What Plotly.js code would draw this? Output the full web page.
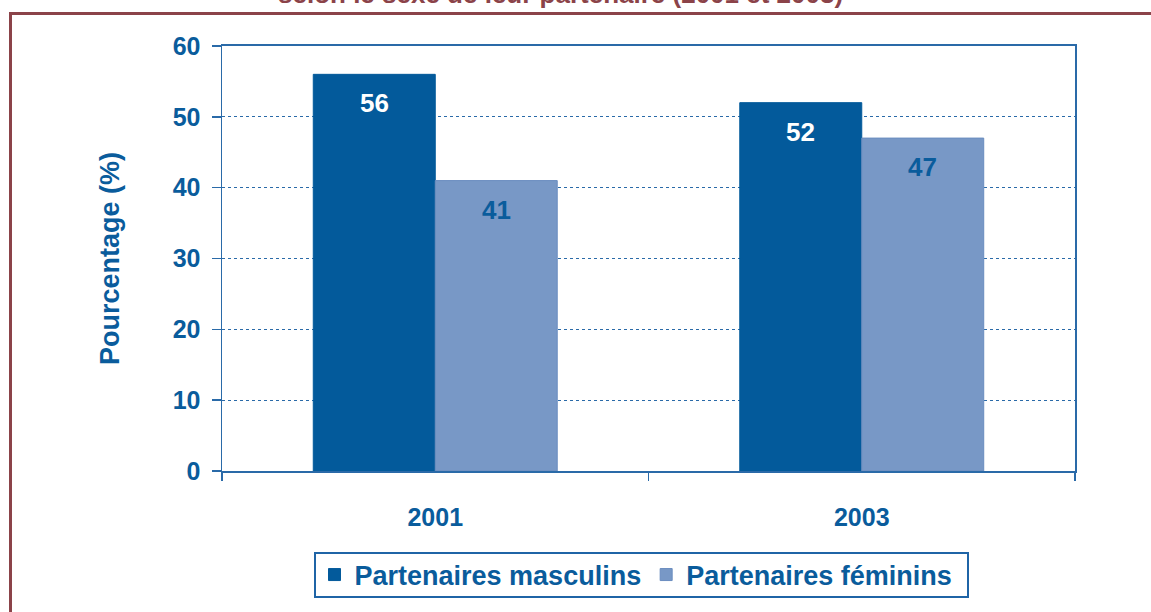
<!DOCTYPE html>
<html>
<head>
<meta charset="utf-8">
<script src="https://cdn.plot.ly/plotly-3.0.1.min.js"></script>
<style>html,body{margin:0;padding:0;background:#fff;}#chart{width:1151px;height:612px;}</style>
</head>
<body>
<div id="chart"></div>
<script>
const years = ["2001", "2003"];
const masculins = [56, 52];
const feminins = [41, 47];
const seriesNames = ["Partenaires masculins", "Partenaires féminins"];
const yTicks = [0, 10, 20, 30, 40, 50, 60];
const titleText = "selon le sexe de leur partenaire (2001 et 2003)";
const yTitle = "Pourcentage (%)";

const BLUE = "#0a5c9c";
const DARK = "#035a9b";
const LIGHT = "#7898c6";
const MAROON = "#8b4349";
const FONT = "Liberation Sans, Arial, sans-serif";

// pixel helpers (plot area: x 222..1075, y 46..471)
const L = 222, R = 1075, T = 46, B = 471, W = 1151, H = 612;
const px = p => (p - L) / (R - L);
const py = p => (B - p) / (B - T);

const traces = [
  {type: "bar", x: years, y: masculins, name: seriesNames[0],
   marker: {color: DARK, line: {color: DARK, width: 1}}},
  {type: "bar", x: years, y: feminins, name: seriesNames[1],
   marker: {color: LIGHT, line: {color: "#6a8cbf", width: 1}}}
];

const annotations = [];
years.forEach((yr, i) => {
  annotations.push({x: i, y: masculins[i], xref: "x", yref: "y", text: String(masculins[i]),
    showarrow: false, xshift: -61, yshift: -12, yanchor: "top",
    font: {family: FONT, size: 26, color: "#ffffff", weight: "bold"}});
  annotations.push({x: i, y: feminins[i], xref: "x", yref: "y", text: String(feminins[i]),
    showarrow: false, xshift: 61, yshift: -12, yanchor: "top",
    font: {family: FONT, size: 26, color: BLUE, weight: "bold"}});
});
annotations.push({x: px(560), y: py(11), xref: "paper", yref: "paper", xanchor: "center", yanchor: "bottom",
  text: titleText, showarrow: false,
  font: {family: FONT, size: 26, color: MAROON, weight: "bold"}});

const layout = {
  width: W, height: H,
  margin: {l: L, r: W - R, t: T, b: H - B, pad: 0, autoexpand: false},
  paper_bgcolor: "#ffffff", plot_bgcolor: "#ffffff",
  barmode: "group", bargap: 0.428, bargroupgap: 0,
  font: {family: FONT, color: BLUE},
  xaxis: {
    type: "category", range: [-0.5, 1.5], tickson: "boundaries", ticks: "outside", ticklen: 8, tickwidth: 1.5, tickcolor: "#2a6aa8",
    showline: true, linecolor: "#2a6aa8", linewidth: 2, mirror: true,
    showgrid: false, zeroline: false,
    tickfont: {family: FONT, size: 25, color: BLUE, weight: "bold"},
    ticklabelstandoff: 23
  },
  yaxis: {
    range: [0, 60], tickvals: yTicks, ticks: "outside", ticklen: 9, tickwidth: 1.5, tickcolor: "#2a6aa8",
    showline: true, linecolor: "#2a6aa8", linewidth: 1.5, mirror: true,
    showgrid: true, gridcolor: "#2a6aa8", griddash: "dot", gridwidth: 1,
    zeroline: false,
    tickfont: {family: FONT, size: 25, color: BLUE, weight: "bold"},
    ticklabelstandoff: 6,
    title: {text: yTitle, standoff: 45, font: {family: FONT, size: 27, color: BLUE, weight: "bold"}}
  },
  showlegend: true,
  legend: {
    orientation: "h", xref: "container", yref: "container",
    x: 636 / W, xanchor: "center", y: 1 - 575 / H, yanchor: "middle",
    borderwidth: 0, bgcolor: "rgba(0,0,0,0)",
    font: {family: FONT, size: 27, color: BLUE, weight: "bold"},
    itemwidth: 30, tracegroupgap: 0, traceorder: "normal"
  },
  annotations: annotations,
  shapes: [
    {type: "line", xref: "paper", yref: "paper", x0: px(9), x1: px(1160), y0: py(13.5), y1: py(13.5),
     line: {color: MAROON, width: 3}},
    {type: "line", xref: "paper", yref: "paper", x0: px(10.5), x1: px(10.5), y0: py(12), y1: py(620),
     line: {color: MAROON, width: 3}},
    {type: "rect", xref: "paper", yref: "paper", x0: px(315), x1: px(968), y0: py(553), y1: py(597),
     line: {color: "#1f64a6", width: 2}, fillcolor: "rgba(0,0,0,0)"}
  ]
};

Plotly.newPlot("chart", traces, layout, {displayModeBar: false, staticPlot: true});
</script>
</body>
</html>
